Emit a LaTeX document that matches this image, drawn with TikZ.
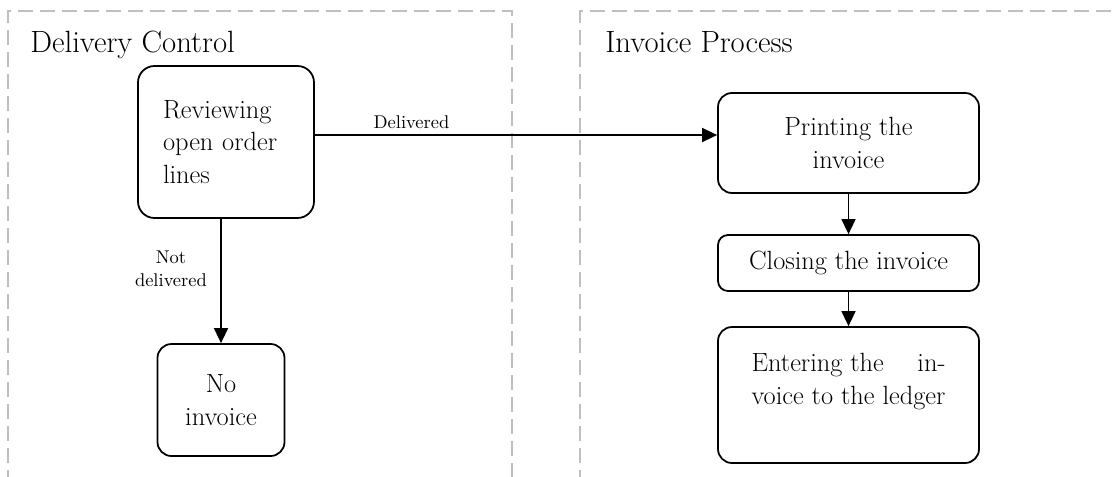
\documentclass[tikz,border=0pt]{standalone}
\usepackage{fontspec}
\usepackage{calc}
\usepackage{tikz}
\usetikzlibrary{arrows.meta,positioning,shapes,calc}

\begin{document}
\begin{tikzpicture}[
    lane/.style={draw=black!25, line width=1.1pt, dash pattern=on 0.3cm off 0.14cm},
    lanetitle/.style={anchor=base west, inner sep=0pt, font=\fontsize{17.5}{20}\selectfont},
    task/.style={draw, line width=1pt, rounded corners=0.28cm, align=center, minimum width=5.22cm, font=\fontsize{15}{18.7}\selectfont},
    flow/.style={line width=0.9pt, -{Triangle[length=0.3cm,width=0.28cm]}},
    flowlabel/.style={font=\fontsize{10.5}{13}\selectfont, align=center}
]
\useasboundingbox (0,0) rectangle (22.26,-9.52);

% Swimlanes (open at the bottom)
\draw[lane] (0.16,-9.7) |- (10.24,-0.22) -- (10.24,-9.7);
\draw[lane] (11.6,-9.7) |- (22.4,-0.22);
\node[lanetitle] (dctitle) at (0.6,-1.04) {Delivery Control};
\node[lanetitle] (iptitle) at (12.1,-1.04) {Invoice Process};

% Delivery control tasks
\node[task, align=left, text width=2.52cm, inner xsep=0.5cm, minimum width=3.52cm, minimum height=3.04cm, rounded corners=0.33cm] (rev) at (4.52,-2.84) {Reviewing open order lines};
\node[task, minimum width=2.54cm, minimum height=2.24cm] (noinv) at (4.42,-8.0) {No\\invoice};

% Invoice process tasks
\node[task, minimum height=2.0cm] (print) at (16.97,-2.86) {Printing the\\invoice};
\node[task, minimum height=1.12cm, rounded corners=0.2cm] (close) at (16.97,-5.26) {Closing the invoice};
\node[task, minimum height=2.72cm] (enter) at (16.97,-7.9) {\makebox[\widthof{voice to the ledger}]{Entering the\hfill in-}\\voice to the ledger\\\mbox{}};

% Flows
\draw[flow] ([yshift=0.14cm]rev.east) -- node[flowlabel, pos=0.24, above] (lbldel) {Delivered} ([yshift=0.16cm]print.west);
\draw[flow] (rev.south -| noinv.north) -- node[flowlabel, pos=0.4, left=0.15cm] (lblnot) {Not\\delivered} (noinv.north);
\draw[flow] (print.south) -- (close.north);
\draw[flow] (close.south) -- (enter.north);

\end{tikzpicture}
\end{document}
